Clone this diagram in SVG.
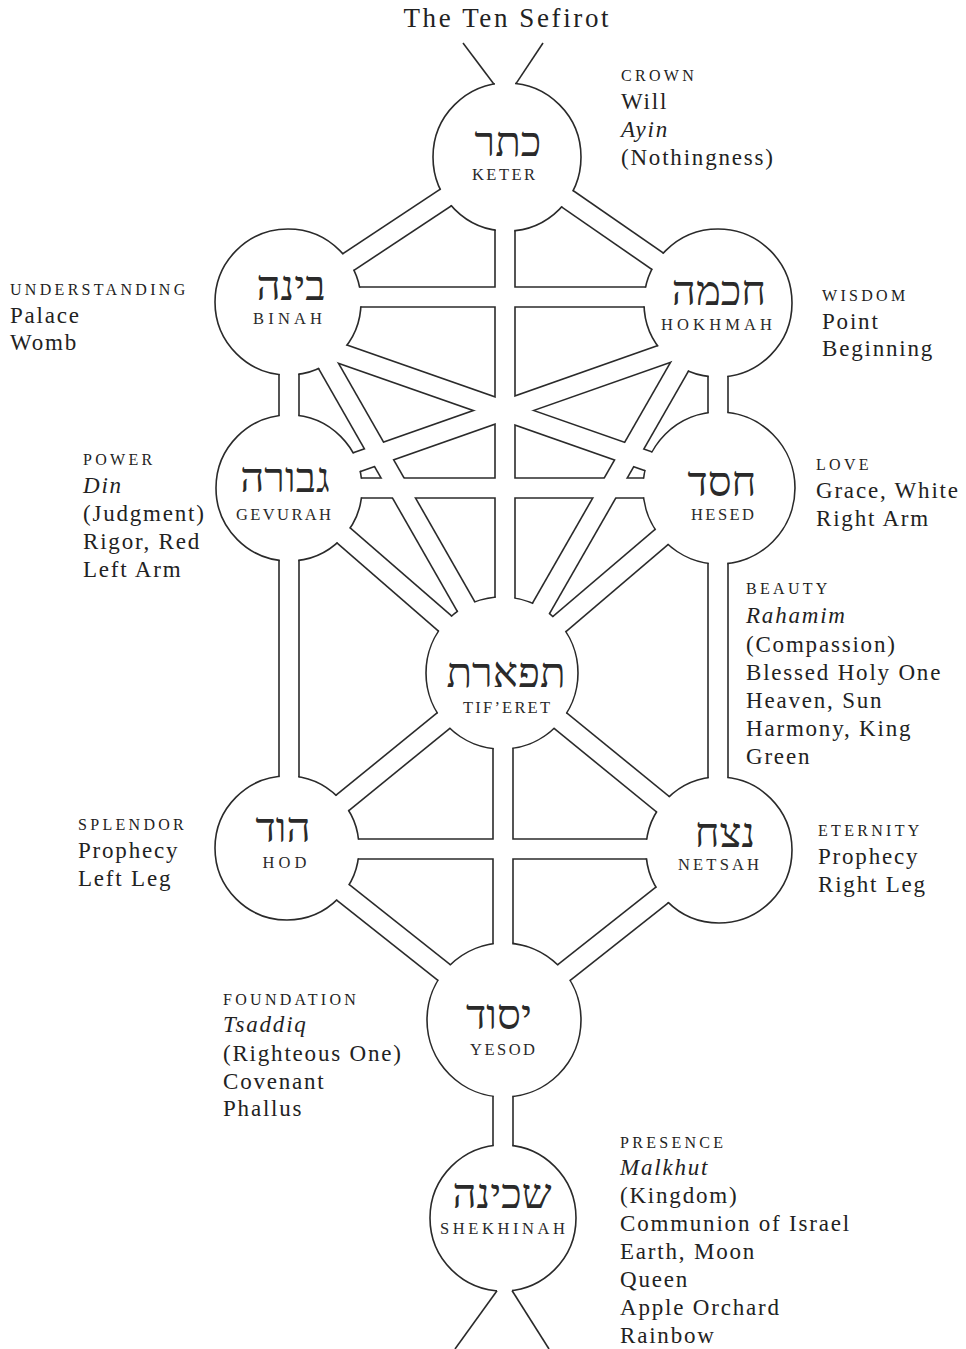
<svg xmlns="http://www.w3.org/2000/svg" xmlns:xlink="http://www.w3.org/1999/xlink" width="966" height="1349" viewBox="0 0 966 1349">
<style>
.edge-out{stroke:#2a2a2a;stroke-width:21.6;fill:none}
.edge-in{stroke:#ffffff;stroke-width:18.4;fill:none}
.vline{stroke:#2a2a2a;stroke-width:1.6;fill:none}
.disc{fill:#ffffff;stroke:none}
.ring{fill:none;stroke:#2a2a2a;stroke-width:1.6}
.heb{font-family:"Liberation Serif","DejaVu Sans",serif;font-size:42px;fill:#2a2a2a;text-anchor:middle}
.nm{font-family:"Liberation Serif",serif;font-size:16.5px;fill:#2a2a2a;text-anchor:middle;letter-spacing:3px}
.cap{font-family:"Liberation Serif",serif;font-size:16px;fill:#222;letter-spacing:3.3px}
.t{font-family:"Liberation Serif",serif;font-size:23px;fill:#222;letter-spacing:1.8px}
.i{font-style:italic}
.title{font-family:"Liberation Serif",serif;font-size:27px;fill:#222;text-anchor:middle}
</style>
<defs>
<g id="ch">
<line x1="507" y1="157" x2="288" y2="302"/>
<line x1="507" y1="157" x2="718" y2="303"/>
<line x1="505" y1="157" x2="505" y2="673"/>
<line x1="288" y1="297" x2="718" y2="297"/>
<line x1="289" y1="302" x2="289" y2="848"/>
<line x1="718" y1="303" x2="718" y2="850"/>
<line x1="292" y1="302" x2="504" y2="673"/>
<line x1="716" y1="303" x2="504" y2="673"/>
<line x1="288" y1="335" x2="719" y2="486"/>
<line x1="718" y1="335" x2="289" y2="486"/>
<line x1="289" y1="488" x2="719" y2="488"/>
<line x1="289" y1="488" x2="502" y2="673"/>
<line x1="719" y1="488" x2="502" y2="673"/>
<line x1="502" y1="673" x2="287" y2="848"/>
<line x1="502" y1="673" x2="719" y2="850"/>
<line x1="287" y1="849" x2="719" y2="849"/>
<line x1="503" y1="673" x2="503" y2="1218"/>
<line x1="287" y1="848" x2="504" y2="1020"/>
<line x1="719" y1="850" x2="504" y2="1020"/>
</g>
<mask id="gaps" maskUnits="userSpaceOnUse" x="0" y="0" width="966" height="1349">
<rect x="0" y="0" width="966" height="1349" fill="#fff"/>
<use xlink:href="#ch" stroke="#000" stroke-width="18.4"/>
<rect x="495" y="70" width="20" height="25" fill="#000"/>
<rect x="497" y="1280" width="15" height="25" fill="#000"/>
</mask>
</defs>
<rect x="0" y="0" width="966" height="1349" fill="#ffffff"/>
<text class="title" x="506" y="27" textLength="205" lengthAdjust="spacing">The Ten Sefirot</text>

<g id="connectors">
<use xlink:href="#ch" class="edge-out"/>
<use xlink:href="#ch" class="edge-in"/>
<line class="vline" x1="463" y1="43" x2="494" y2="84.2"/>
<line class="vline" x1="543" y1="43" x2="516" y2="83.6"/>
<line class="vline" x1="497" y1="1290.7" x2="455" y2="1349"/>
<line class="vline" x1="512" y1="1290.5" x2="549" y2="1349"/>
</g>

<g id="keter">
<circle class="disc" cx="507" cy="157" r="74"/>
<circle class="ring" cx="507" cy="157" r="74" mask="url(#gaps)"/>
<text class="heb" x="508" y="156">כתר</text>
<text class="nm" x="505" y="180" textLength="66" lengthAdjust="spacing">KETER</text>
</g>
<g id="binah">
<circle class="disc" cx="288" cy="302" r="73"/>
<circle class="ring" cx="288" cy="302" r="73" mask="url(#gaps)"/>
<text class="heb" x="291" y="300">בינה</text>
<text class="nm" x="289" y="324" textLength="72" lengthAdjust="spacing">BINAH</text>
</g>
<g id="hokhmah">
<circle class="disc" cx="718" cy="303" r="74"/>
<circle class="ring" cx="718" cy="303" r="74" mask="url(#gaps)"/>
<text class="heb" x="719" y="305">חכמה</text>
<text class="nm" x="718" y="330" textLength="114" lengthAdjust="spacing">HOKHMAH</text>
</g>
<g id="gevurah">
<circle class="disc" cx="289" cy="488" r="73"/>
<circle class="ring" cx="289" cy="488" r="73" mask="url(#gaps)"/>
<text class="heb" x="285" y="492">גבורה</text>
<text class="nm" x="285" y="520" textLength="98" lengthAdjust="spacing">GEVURAH</text>
</g>
<g id="hesed">
<circle class="disc" cx="719" cy="488" r="76"/>
<circle class="ring" cx="719" cy="488" r="76" mask="url(#gaps)"/>
<text class="heb" x="722" y="496">חסד</text>
<text class="nm" x="724" y="520" textLength="66" lengthAdjust="spacing">HESED</text>
</g>
<g id="tiferet">
<circle class="disc" cx="502" cy="673" r="76"/>
<circle class="ring" cx="502" cy="673" r="76" mask="url(#gaps)"/>
<text class="heb" x="506" y="687">תפארת</text>
<text class="nm" x="508" y="713" textLength="90" lengthAdjust="spacing">TIF’ERET</text>
</g>
<g id="hod">
<circle class="disc" cx="287" cy="848" r="72"/>
<circle class="ring" cx="287" cy="848" r="72" mask="url(#gaps)"/>
<text class="heb" x="283" y="842">הוד</text>
<text class="nm" x="286" y="868" textLength="47" lengthAdjust="spacing">HOD</text>
</g>
<g id="netsah">
<circle class="disc" cx="719" cy="850" r="73"/>
<circle class="ring" cx="719" cy="850" r="73" mask="url(#gaps)"/>
<text class="heb" x="725" y="847">נצח</text>
<text class="nm" x="720" y="870" textLength="84" lengthAdjust="spacing">NETSAH</text>
</g>
<g id="yesod">
<circle class="disc" cx="504" cy="1020" r="77"/>
<circle class="ring" cx="504" cy="1020" r="77" mask="url(#gaps)"/>
<text class="heb" x="499" y="1029">יסוד</text>
<text class="nm" x="504" y="1055" textLength="68" lengthAdjust="spacing">YESOD</text>
</g>
<g id="shekhinah">
<circle class="disc" cx="503" cy="1218" r="73"/>
<circle class="ring" cx="503" cy="1218" r="73" mask="url(#gaps)"/>
<text class="heb" x="502" y="1208">שכינה</text>
<text class="nm" x="504" y="1234" textLength="128" lengthAdjust="spacing">SHEKHINAH</text>
</g>

<g id="labels">
<text class="cap" x="621" y="81">CROWN</text>
<text class="t" x="621" y="109">Will</text>
<text class="t i" x="621" y="137">Ayin</text>
<text class="t" x="621" y="165">(Nothingness)</text>

<text class="cap" x="10" y="295">UNDERSTANDING</text>
<text class="t" x="10" y="323">Palace</text>
<text class="t" x="10" y="350">Womb</text>

<text class="cap" x="822" y="301">WISDOM</text>
<text class="t" x="822" y="329">Point</text>
<text class="t" x="822" y="356">Beginning</text>

<text class="cap" x="83" y="465">POWER</text>
<text class="t i" x="83" y="493">Din</text>
<text class="t" x="83" y="521">(Judgment)</text>
<text class="t" x="83" y="549">Rigor, Red</text>
<text class="t" x="83" y="577">Left Arm</text>

<text class="cap" x="816" y="470">LOVE</text>
<text class="t" x="816" y="498">Grace, White</text>
<text class="t" x="816" y="526">Right Arm</text>

<text class="cap" x="746" y="594">BEAUTY</text>
<text class="t i" x="746" y="623">Rahamim</text>
<text class="t" x="746" y="652">(Compassion)</text>
<text class="t" x="746" y="680">Blessed Holy One</text>
<text class="t" x="746" y="708">Heaven, Sun</text>
<text class="t" x="746" y="736">Harmony, King</text>
<text class="t" x="746" y="764">Green</text>

<text class="cap" x="78" y="830">SPLENDOR</text>
<text class="t" x="78" y="858">Prophecy</text>
<text class="t" x="78" y="886">Left Leg</text>

<text class="cap" x="818" y="836">ETERNITY</text>
<text class="t" x="818" y="864">Prophecy</text>
<text class="t" x="818" y="892">Right Leg</text>

<text class="cap" x="223" y="1005">FOUNDATION</text>
<text class="t i" x="223" y="1032">Tsaddiq</text>
<text class="t" x="223" y="1061">(Righteous One)</text>
<text class="t" x="223" y="1089">Covenant</text>
<text class="t" x="223" y="1116">Phallus</text>

<text class="cap" x="620" y="1148">PRESENCE</text>
<text class="t i" x="620" y="1175">Malkhut</text>
<text class="t" x="620" y="1203">(Kingdom)</text>
<text class="t" x="620" y="1231">Communion of Israel</text>
<text class="t" x="620" y="1259">Earth, Moon</text>
<text class="t" x="620" y="1287">Queen</text>
<text class="t" x="620" y="1315">Apple Orchard</text>
<text class="t" x="620" y="1343">Rainbow</text>
</g>
</svg>
